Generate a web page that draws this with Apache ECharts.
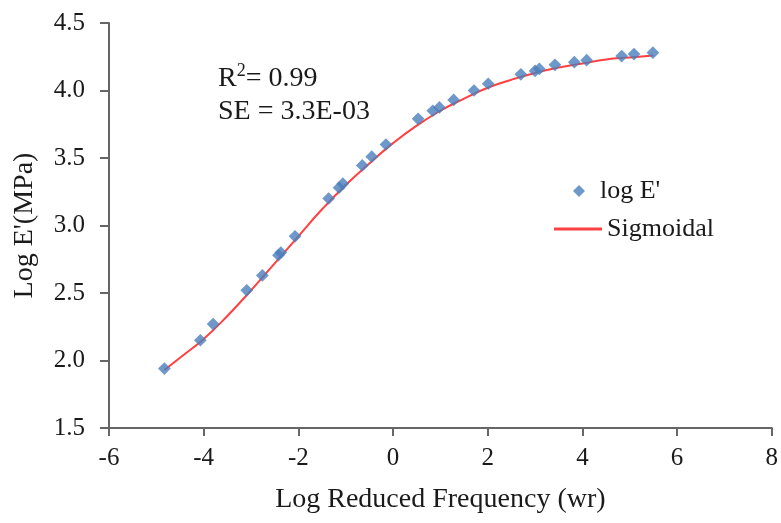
<!DOCTYPE html>
<html>
<head>
<meta charset="utf-8">
<script src="https://cdn.jsdelivr.net/npm/echarts@6/dist/echarts.min.js"></script>
<style>html,body{margin:0;padding:0;background:#fff}#c{width:781px;height:523px}</style>
</head>
<body>
<div id="c"></div>
<script>
// Measured points (log reduced frequency, log E')
var measX = [-4.83, -4.07, -3.80, -3.09, -2.76, -2.42, -2.37, -2.07, -1.36, -1.14, -1.06, -0.65, -0.45, -0.15, 0.53, 0.84, 0.98, 1.28, 1.71, 2.01, 2.70, 3.00, 3.09, 3.42, 3.83, 4.09, 4.83, 5.09, 5.49];
var measY = [1.94, 2.15, 2.27, 2.52, 2.63, 2.78, 2.80, 2.92, 3.20, 3.28, 3.31, 3.445, 3.51, 3.60, 3.79, 3.85, 3.875, 3.93, 4.00, 4.05, 4.12, 4.145, 4.16, 4.19, 4.21, 4.225, 4.255, 4.27, 4.28];
// Sigmoidal fit curve
var fitX = [-4.83, -4.5, -4.0, -3.5, -3.0, -2.5, -2.0, -1.5, -1.0, -0.5, 0.0, 0.5, 1.0, 1.5, 2.0, 2.5, 3.0, 3.5, 4.0, 4.5, 5.0, 5.5];
var fitY = [1.93, 2.02, 2.16, 2.33, 2.52, 2.72, 2.92, 3.12, 3.30, 3.46, 3.61, 3.74, 3.85, 3.94, 4.02, 4.08, 4.13, 4.17, 4.20, 4.23, 4.245, 4.26];
var seriesNames = ["log E'", "Sigmoidal"];
var xTitle = "Log Reduced Frequency (wr)";
var yTitle = "Log E'(MPa)";
var statR2 = "0.99";
var statSE = "3.3E-03";

var FONT = "Liberation Serif";
var TXT = "#1a1a1a";
var AX = "#666666";
var RED = '#ff4040';

var chart = echarts.init(document.getElementById('c'));
chart.setOption({
  animation: false,
  backgroundColor: '#fff',
  textStyle: {fontFamily: FONT, color: TXT},
  grid: {left: 109, right: 7, top: 23, bottom: 95, containLabel: false},
  title: {
    left: 213, top: 57,
    text: '{a|R}{s|2}{a|= ' + statR2 + '}\n{a|SE = ' + statSE + '}',
    textStyle: {
      fontWeight: 'normal',
      rich: {
        a: {fontFamily: FONT, fontSize: 28, fontWeight: 'normal', color: TXT, lineHeight: 33},
        s: {fontFamily: FONT, fontSize: 18, fontWeight: 'normal', color: TXT, verticalAlign: 'top', lineHeight: 33, padding: [0, 0, 10, 0]}
      }
    }
  },
  legend: [
    {
      data: [{name: seriesNames[0], icon: 'diamond'}],
      left: 568, top: 173,
      itemWidth: 12, itemHeight: 12,
      textStyle: {fontFamily: FONT, fontSize: 26, color: TXT, padding: [0, 0, 0, 10]}
    },
    {
      data: [{name: seriesNames[1], icon: 'rect'}],
      left: 549, top: 211,
      itemWidth: 48, itemHeight: 3,
      textStyle: {fontFamily: FONT, fontSize: 26, color: TXT}
    }
  ],
  xAxis: {
    type: 'value', min: -6, max: 8, interval: 2,
    name: xTitle, nameLocation: 'middle', nameGap: 58,
    nameTextStyle: {fontFamily: FONT, fontSize: 28, color: TXT},
    axisLine: {show: true, onZero: false, lineStyle: {color: AX, width: 2}},
    axisTick: {show: true, inside: false, length: 8, lineStyle: {color: AX, width: 2}},
    axisLabel: {fontFamily: FONT, fontSize: 25, color: TXT, margin: 18},
    splitLine: {show: false}
  },
  yAxis: {
    type: 'value', min: 1.5, max: 4.5, interval: 0.5,
    name: yTitle, nameLocation: 'middle', nameGap: 70, nameRotate: 90,
    nameTextStyle: {fontFamily: FONT, fontSize: 28, color: TXT},
    axisLine: {show: true, onZero: false, lineStyle: {color: AX, width: 2}},
    axisTick: {show: true, inside: false, length: 9, lineStyle: {color: AX, width: 2}},
    axisLabel: {fontFamily: FONT, fontSize: 25, color: TXT, margin: 24,
      formatter: function (v) { return v.toFixed(1); }},
    splitLine: {show: false}
  },
  series: [
    {
      name: seriesNames[0], type: 'scatter',
      symbol: 'rect', symbolSize: 9, symbolRotate: 45,
      itemStyle: {color: '#4a7ebb'},
      data: measX.map(function (x, i) { return [x, measY[i]]; }),
      z: 3
    },
    {
      name: seriesNames[1], type: 'line',
      showSymbol: false, symbol: 'none', smooth: true,
      lineStyle: {color: RED, width: 2},
      itemStyle: {color: RED},
      data: fitX.map(function (x, i) { return [x, fitY[i]]; }),
      z: 2
    }
  ]
});
</script>
</body>
</html>
